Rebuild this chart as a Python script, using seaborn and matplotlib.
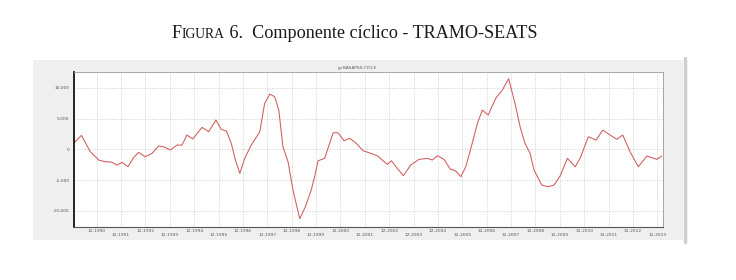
import matplotlib
matplotlib.use("Agg")
import matplotlib.pyplot as plt
import seaborn as sns
import pandas as pd
from matplotlib.patches import Rectangle
from matplotlib.lines import Line2D

# ---- data ----
years = [1990.00, 1990.29, 1990.66, 1991.00, 1991.27, 1991.52, 1991.75, 1991.96,
         1992.20, 1992.44, 1992.64, 1992.91, 1993.19, 1993.46, 1993.67, 1993.94,
         1994.21, 1994.42, 1994.62, 1994.86, 1995.24, 1995.51, 1995.81, 1996.03,
         1996.24, 1996.44, 1996.61, 1996.79, 1996.99, 1997.26, 1997.61, 1997.81,
         1998.02, 1998.22, 1998.39, 1998.56, 1998.77, 1998.97, 1999.25, 1999.48,
         1999.72, 1999.86, 2000.00, 2000.27, 2000.62, 2000.82, 2001.07, 2001.30,
         2001.57, 2001.85, 2002.16, 2002.43, 2002.84, 2003.01, 2003.25, 2003.50,
         2003.80, 2004.14, 2004.49, 2004.69, 2004.90, 2005.17, 2005.42, 2005.65,
         2005.86, 2006.06, 2006.27, 2006.54, 2006.74, 2006.98, 2007.29, 2007.56,
         2007.82, 2008.08, 2008.29, 2008.49, 2008.70, 2008.86, 2009.18, 2009.45,
         2009.68, 2009.93, 2010.23, 2010.55, 2010.75, 2011.09, 2011.41, 2011.68,
         2011.98, 2012.26, 2012.50, 2012.80, 2013.14, 2013.49, 2013.90, 2014.10]
cycle = [1075, 2280, -390, -1740, -2020, -2070, -2560, -2120,
         -2830, -1300, -490, -1200, -650, 540, 420, -110,
         700, 700, 2330, 1680, 3580, 2870, 4770, 3250,
         2980, 980, -1740, -3910, -1470, 700, 2870, 7490,
         9010, 8570, 6400, 420, -2020, -6630, -11300, -9350,
         -6630, -4460, -1860, -1470, 2700, 2700, 1400, 1790,
         980, -230, -650, -1040, -2440, -1860, -3100, -4300,
         -2560, -1630, -1470, -1740, -1040, -1630, -3210, -3530,
         -4460, -2830, 160, 4240, 6400, 5590, 8310, 9660,
         11500, 7490, 3680, 980, -650, -3370, -5820, -6090,
         -5820, -4350, -1470, -2830, -1470, 2050, 1510, 3140,
         2330, 1630, 2330, -390, -2830, -1090, -1630, -1090]
tick_years = list(range(1990, 2014))
tick_labels = [f"12-{y}" for y in tick_years]
y_ticks = [-10000, -5000, 0, 5000, 10000]
y_tick_labels = ["-10,000", "-5,000", "0", "5,000", "10,000"]

df = pd.DataFrame({"year": years, "cycle": cycle})

sns.set_theme(style="white")
plt.rcParams["font.family"] = ["DejaVu Sans"]

W, H = 736, 280
fig = plt.figure(figsize=(W / 100, H / 100), dpi=100)
fig.patch.set_facecolor("white")

# grey panel behind the chart
fig.patches.append(Rectangle((33 / W, 1 - 240 / H), (683 - 33) / W, (240 - 60) / H,
                             transform=fig.transFigure, facecolor="#efefef",
                             edgecolor="none", zorder=-5))
fig.lines.append(Line2D([684.5 / W, 684.5 / W], [1 - 242 / H, 1 - 58 / H],
                        transform=fig.transFigure, color="#cfcfcf", lw=2.5, zorder=-5))

ax = fig.add_axes([74.3 / W, 1 - 226.7 / H, (662.7 - 74.3) / W, (226.7 - 72.3) / H])
ax.set_zorder(2)
ax.set_facecolor("white")

sns.lineplot(data=df, x="year", y="cycle", ax=ax, color="#d05a5a", lw=0.75,
             estimator=None, sort=False)

ax.set_xlim(1990.0, 2014.14)
ax.set_ylim(-12600, 12550)

xt = [y + 11 / 12 for y in tick_years]
ax.set_xticks(xt)
ax.set_xticklabels([])
ax.set_yticks(y_ticks)
ax.set_yticklabels(y_tick_labels, fontsize=3.2, color="#555555")
ax.tick_params(axis="y", length=2, width=0.4, color="#777777", pad=1.5)
ax.tick_params(axis="x", length=0)
ax.grid(True, color="#c4c4c4", lw=0.45, ls=(0, (2, 2)))
ax.set_xlabel("")
ax.set_ylabel("")

for i, (x, lab) in enumerate(zip(xt, tick_labels)):
    yoff = -0.012 if i % 2 == 0 else -0.038
    ax.text(x, yoff, lab, transform=ax.get_xaxis_transform(), fontsize=3.2,
            color="#555555", ha="center", va="top")

for s in ["top", "right"]:
    ax.spines[s].set_color("#9a9a9a")
    ax.spines[s].set_linewidth(0.6)
ax.spines["left"].set_color("black")
ax.spines["left"].set_linewidth(1.2)
ax.spines["bottom"].set_color("#555555")
ax.spines["bottom"].set_linewidth(0.8)

# inner small title
fig.text(357 / W, 1 - 67.5 / H, "gi BASAPSS.CYCLE", fontsize=3, color="#555555",
         ha="center", va="center")

# caption with small caps "FIGURA"
renderer = fig.canvas.get_renderer()
serif = "Liberation Serif"
pieces = [("F", 13.1), ("IGURA", 9.8), (" 6.  Componente cíclico - TRAMO-SEATS", 13.1)]
x0 = 172 / W
ybase = 1 - 37.5 / H
for txt, fs in pieces:
    t = fig.text(x0, ybase, txt, fontsize=fs, family=serif, color="#1a1a1a",
                 ha="left", va="baseline")
    bb = t.get_window_extent(renderer=renderer)
    x0 += bb.width / W

fig.savefig("out.png", dpi=100, facecolor="white")
